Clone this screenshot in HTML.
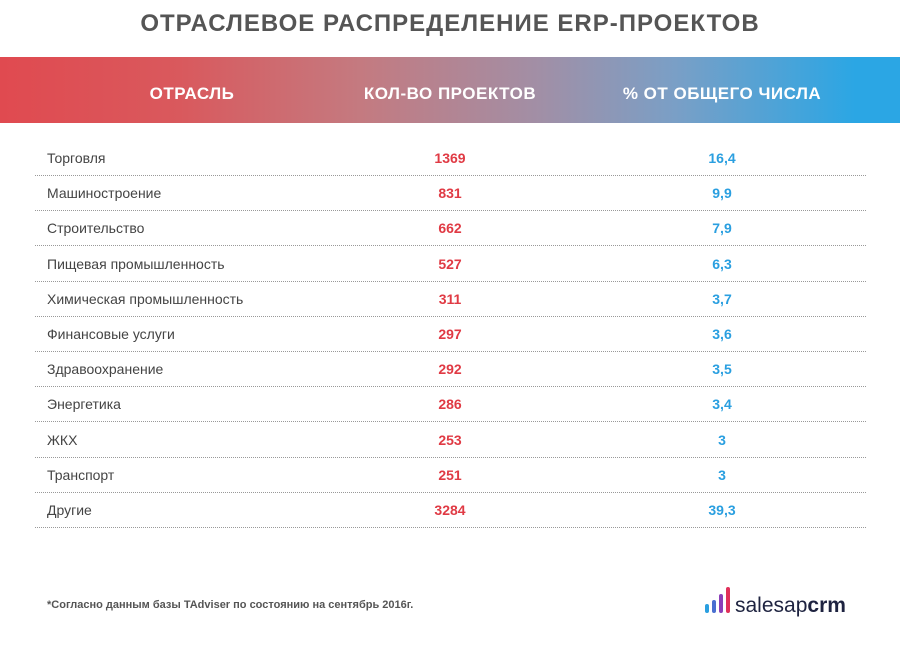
<!DOCTYPE html>
<html><head><meta charset="utf-8"><style>
body{margin:0;width:900px;height:649px;background:#fff;position:relative;overflow:hidden;font-family:"Liberation Sans",sans-serif}
.title{position:absolute;top:10px;left:0;width:900px;text-align:center;font-weight:bold;font-size:24px;color:#555;letter-spacing:1px}
.band{position:absolute;top:57px;left:0;width:900px;height:66px;background:linear-gradient(90deg,#e04a50 0%,#d9595d 20%,#c47a80 40%,#a18fa6 60%,#7a9fc6 75%,#2ba6e4 95%)}
.hd{position:absolute;top:84px;color:#fff;font-weight:bold;font-size:17px;transform:translateX(-50%);white-space:nowrap;letter-spacing:.5px}
.row{position:absolute;left:35px;width:831px;height:35px;border-bottom:1px dotted #999}
.lab{position:absolute;left:12px;top:10px;font-size:14px;color:#444}
.n{position:absolute;left:415px;top:10px;width:0;font-size:14px;font-weight:bold;color:#e03a44;display:flex;justify-content:center}
.p{position:absolute;left:687px;top:10px;width:0;font-size:14px;font-weight:bold;color:#2a9fe0;display:flex;justify-content:center}
.foot{position:absolute;left:47px;top:599px;font-size:11px;font-weight:bold;color:#555}
</style></head><body>
<div class="title">ОТРАСЛЕВОЕ РАСПРЕДЕЛЕНИЕ ERP-ПРОЕКТОВ</div>
<div class="band"></div>
<div class="hd" style="left:192px">ОТРАСЛЬ</div>
<div class="hd" style="left:450px">КОЛ-ВО ПРОЕКТОВ</div>
<div class="hd" style="left:722px">% ОТ ОБЩЕГО ЧИСЛА</div>
<div id="rows"></div>
<div class="foot">*Согласно данным базы TAdviser по состоянию на сентябрь 2016г.</div>
<svg style="position:absolute;left:700px;top:584px" width="160" height="34">
<rect x="5" y="20" width="4" height="9" rx="2" fill="#2a9fe0"/>
<rect x="12" y="16" width="4" height="13" rx="2" fill="#4a6fd0"/>
<rect x="19" y="10" width="4" height="19" rx="2" fill="#8a3fb8"/>
<rect x="26" y="3" width="4" height="26" rx="2" fill="#e0305a"/>
<text x="35" y="28" font-family="Liberation Sans,sans-serif" font-size="21" fill="#1e2340">salesap<tspan font-weight="bold">crm</tspan></text>
</svg>
<script>
const industries=["Торговля","Машиностроение","Строительство","Пищевая промышленность","Химическая промышленность","Финансовые услуги","Здравоохранение","Энергетика","ЖКХ","Транспорт","Другие"];
const counts=["1369","831","662","527","311","297","292","286","253","251","3284"];
const percents=["16,4","9,9","7,9","6,3","3,7","3,6","3,5","3,4","3","3","39,3"];
const c=document.getElementById('rows');
industries.forEach((name,i)=>{
const r=document.createElement('div');r.className='row';r.style.top=(140+i*35.2)+'px';


r.innerHTML='<div class="lab">'+name+'</div><div class="n"><span>'+counts[i]+'</span></div><div class="p"><span>'+percents[i]+'</span></div>';
c.appendChild(r);});
</script>
</body></html>
